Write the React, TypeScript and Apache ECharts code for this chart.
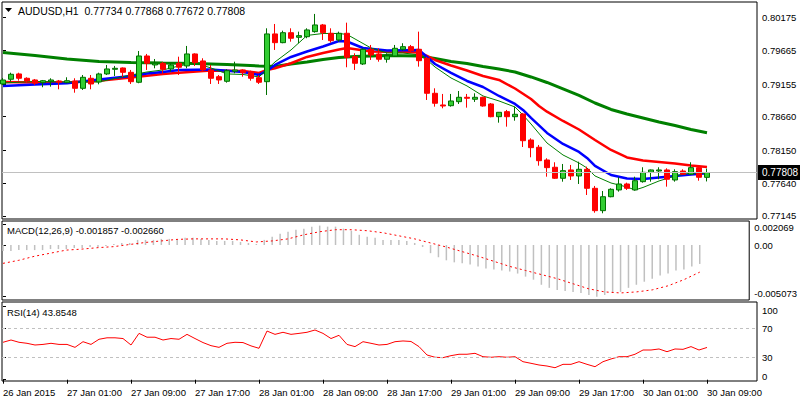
import React, { useEffect, useRef } from 'react';
import * as echarts from 'echarts';

// ---- data (H1 AUDUSD, 26 Jan 2015 17:00 .. 30 Jan 2015 09:00) ----
const timeTickIndex = [0, 8, 16, 24, 32, 40, 48, 56, 64, 72, 80, 88];
const timeLabels = ['26 Jan 2015', '27 Jan 01:00', '27 Jan 09:00', '27 Jan 17:00', '28 Jan 01:00', '28 Jan 09:00', '28 Jan 17:00', '29 Jan 01:00', '29 Jan 09:00', '29 Jan 17:00', '30 Jan 01:00', '30 Jan 09:00'];

const opens = [0.79158, 0.79230, 0.79311, 0.79245, 0.79219, 0.79178, 0.79193, 0.79204, 0.79178, 0.79204, 0.79092, 0.79245, 0.79189, 0.79311, 0.79382, 0.79402, 0.79336, 0.79184, 0.79585, 0.79448, 0.79474, 0.79387, 0.79474, 0.79433, 0.79616, 0.79509, 0.79372, 0.79269, 0.79199, 0.79352, 0.79372, 0.79330, 0.79254, 0.79193, 0.79921, 0.79788, 0.79940, 0.79870, 0.79879, 0.79956, 0.80058, 0.79931, 0.79829, 0.79931, 0.79574, 0.79463, 0.79687, 0.79616, 0.79535, 0.79585, 0.79687, 0.79727, 0.79687, 0.79550, 0.79016, 0.78838, 0.78827, 0.78888, 0.78955, 0.78925, 0.78955, 0.78853, 0.78659, 0.78736, 0.78659, 0.78701, 0.78304, 0.78193, 0.77999, 0.77888, 0.77720, 0.77847, 0.77755, 0.77857, 0.77567, 0.77226, 0.77439, 0.77542, 0.77633, 0.77542, 0.77668, 0.77811, 0.77831, 0.77847, 0.77694, 0.77831, 0.77781, 0.77882, 0.77734];
const highs = [0.79250, 0.79330, 0.79330, 0.79260, 0.79234, 0.79219, 0.79245, 0.79219, 0.79260, 0.79245, 0.79295, 0.79295, 0.79330, 0.79448, 0.79433, 0.79410, 0.79372, 0.79661, 0.79616, 0.79539, 0.79494, 0.79474, 0.79574, 0.79738, 0.79626, 0.79550, 0.79448, 0.79295, 0.79382, 0.79498, 0.79382, 0.79361, 0.79295, 0.80007, 0.80073, 0.79971, 0.80007, 0.79956, 0.80007, 0.80226, 0.80073, 0.80007, 0.79956, 0.80093, 0.79626, 0.79702, 0.79753, 0.79702, 0.79626, 0.79753, 0.79779, 0.79753, 0.79956, 0.79574, 0.79092, 0.79006, 0.79006, 0.79051, 0.79006, 0.79016, 0.78964, 0.78868, 0.78731, 0.78762, 0.78812, 0.78716, 0.78330, 0.78228, 0.78025, 0.77964, 0.77938, 0.77923, 0.77973, 0.77897, 0.77603, 0.77526, 0.77567, 0.77735, 0.77653, 0.77744, 0.77888, 0.77854, 0.77888, 0.77872, 0.77857, 0.77857, 0.77964, 0.77897, 0.77868];
const lows = [0.79143, 0.79193, 0.79208, 0.79178, 0.79143, 0.79108, 0.79117, 0.79077, 0.79169, 0.79025, 0.79067, 0.79077, 0.79153, 0.79295, 0.79280, 0.79260, 0.79158, 0.79169, 0.79372, 0.79397, 0.79321, 0.79346, 0.79295, 0.79397, 0.79433, 0.79346, 0.79158, 0.79158, 0.79178, 0.79321, 0.79269, 0.79208, 0.79158, 0.78990, 0.79677, 0.79779, 0.79803, 0.79779, 0.79855, 0.79940, 0.79829, 0.79788, 0.79803, 0.79413, 0.79372, 0.79448, 0.79524, 0.79498, 0.79483, 0.79574, 0.79666, 0.79635, 0.79422, 0.78914, 0.78812, 0.78787, 0.78812, 0.78853, 0.78797, 0.78884, 0.78812, 0.78650, 0.78568, 0.78507, 0.78598, 0.78197, 0.78040, 0.77912, 0.77744, 0.77709, 0.77668, 0.77694, 0.77633, 0.77465, 0.77195, 0.77186, 0.77430, 0.77516, 0.77542, 0.77531, 0.77653, 0.77668, 0.77705, 0.77592, 0.77668, 0.77770, 0.77770, 0.77683, 0.77672];
const closes = [0.79219, 0.79306, 0.79245, 0.79204, 0.79169, 0.79208, 0.79219, 0.79184, 0.79208, 0.79092, 0.79260, 0.79158, 0.79311, 0.79387, 0.79397, 0.79336, 0.79193, 0.79585, 0.79474, 0.79474, 0.79382, 0.79448, 0.79413, 0.79616, 0.79483, 0.79372, 0.79245, 0.79219, 0.79361, 0.79372, 0.79330, 0.79245, 0.79184, 0.79921, 0.79788, 0.79940, 0.79855, 0.79895, 0.79982, 0.80058, 0.79940, 0.79818, 0.79931, 0.79565, 0.79474, 0.79687, 0.79600, 0.79535, 0.79585, 0.79702, 0.79727, 0.79666, 0.79513, 0.79016, 0.78864, 0.78822, 0.78899, 0.78955, 0.78940, 0.78955, 0.78822, 0.78659, 0.78726, 0.78659, 0.78696, 0.78293, 0.78187, 0.77988, 0.77882, 0.77720, 0.77836, 0.77755, 0.77857, 0.77567, 0.77226, 0.77439, 0.77552, 0.77633, 0.77567, 0.77683, 0.77811, 0.77847, 0.77847, 0.77705, 0.77821, 0.77781, 0.77882, 0.77735, 0.77808];

// moving averages: [bar index, price]
const maSlow = [[0, 0.79638], [4, 0.79593], [8, 0.79539], [12, 0.79501], [16, 0.79486], [20, 0.79478], [24, 0.79471], [28, 0.79455], [32, 0.79433], [34, 0.79425], [36, 0.79463], [38, 0.79494], [40, 0.79532], [42, 0.79562], [44, 0.79577], [48, 0.79593], [52, 0.79585], [54, 0.79547], [56, 0.79501], [58, 0.79471], [60, 0.79425], [62, 0.79387], [64, 0.79341], [66, 0.79265], [68, 0.79181], [70, 0.79082], [72, 0.78983], [74, 0.78868], [76, 0.78769], [78, 0.78701], [80, 0.78640], [82, 0.78579], [84, 0.78525], [86, 0.78464], [88, 0.78415]];
const maMid = [[0, 0.79189], [4, 0.79181], [8, 0.79181], [12, 0.79208], [16, 0.79257], [20, 0.79311], [22, 0.79330], [26, 0.79364], [30, 0.79356], [32, 0.79326], [33, 0.79372], [34, 0.79397], [36, 0.79474], [38, 0.79570], [40, 0.79631], [42, 0.79684], [43, 0.79707], [46, 0.79654], [50, 0.79646], [52, 0.79638], [53, 0.79585], [54, 0.79524], [56, 0.79440], [58, 0.79364], [60, 0.79280], [62, 0.79219], [64, 0.79089], [66, 0.78929], [67, 0.78822], [68, 0.78736], [70, 0.78594], [72, 0.78464], [74, 0.78304], [76, 0.78152], [78, 0.78037], [80, 0.77991], [82, 0.77969], [84, 0.77946], [86, 0.77915], [88, 0.77892]];
const maFast = [[0, 0.79128], [4, 0.79150], [8, 0.79169], [12, 0.79227], [16, 0.79280], [18, 0.79318], [20, 0.79341], [22, 0.79372], [26, 0.79379], [30, 0.79341], [32, 0.79295], [33, 0.79356], [34, 0.79448], [36, 0.79570], [38, 0.79654], [40, 0.79730], [42, 0.79814], [43, 0.79806], [45, 0.79707], [48, 0.79669], [52, 0.79677], [53, 0.79570], [54, 0.79463], [56, 0.79326], [58, 0.79204], [60, 0.79112], [62, 0.78975], [64, 0.78853], [65, 0.78762], [66, 0.78640], [68, 0.78411], [70, 0.78243], [72, 0.78121], [73, 0.78030], [74, 0.77908], [76, 0.77770], [78, 0.77717], [80, 0.77709], [82, 0.77732], [84, 0.77755], [86, 0.77778], [88, 0.77796]];
const maShort = [[0, 0.79173], [4, 0.79196], [8, 0.79189], [12, 0.79189], [16, 0.79295], [18, 0.79341], [20, 0.79372], [22, 0.79433], [24, 0.79478], [26, 0.79402], [28, 0.79311], [30, 0.79303], [32, 0.79265], [34, 0.79494], [36, 0.79677], [38, 0.79898], [40, 0.79928], [42, 0.79928], [43, 0.79913], [46, 0.79707], [48, 0.79631], [50, 0.79631], [52, 0.79600], [53, 0.79524], [54, 0.79417], [56, 0.79250], [58, 0.79128], [60, 0.78975], [62, 0.78899], [64, 0.78807], [65, 0.78685], [66, 0.78548], [68, 0.78258], [70, 0.78075], [72, 0.77953], [73, 0.77877], [74, 0.77755], [76, 0.77648], [78, 0.77587], [79, 0.77542], [80, 0.77580], [82, 0.77679], [84, 0.77755], [86, 0.77801], [88, 0.77796]];

const macdHist = [-0.0006, -0.0006, -0.0005, -0.0005, -0.0005, -0.0005, -0.0004, -0.0004, -0.0004, -0.0003, -0.0003, -0.0002, -0.0002, -0.0001, 0.0001, 0.0002, 0.0002, 0.0005, 0.0005, 0.0005, 0.0006, 0.0006, 0.0006, 0.0007, 0.0007, 0.0006, 0.0005, 0.0004, 0.0004, 0.0004, 0.0003, 0.0002, 0.0001, 0.0005, 0.0008, 0.0011, 0.0013, 0.0015, 0.0016, 0.0018, 0.0019, 0.0018, 0.0018, 0.0016, 0.0014, 0.0010, 0.0008, 0.0007, 0.0005, 0.0005, 0.0005, 0.0004, 0.0002, -0.0002, -0.0008, -0.0012, -0.0015, -0.0017, -0.0018, -0.0019, -0.0021, -0.0023, -0.0024, -0.0025, -0.0026, -0.0028, -0.0031, -0.0034, -0.0039, -0.0042, -0.0044, -0.0045, -0.0046, -0.0047, -0.0049, -0.005073, -0.0049, -0.0047, -0.0046, -0.0042, -0.0039, -0.0036, -0.0033, -0.0030, -0.0028, -0.0025, -0.0024, -0.0021, -0.001857];
const macdSignal = [[0, -0.0018], [2, -0.0015], [4, -0.0011], [6, -0.0008], [8, -0.0005], [10, -0.0004], [12, -0.00026], [14, -0.00016], [16, 0.00005], [18, 0.00025], [20, 0.0004], [22, 0.00055], [24, 0.0006], [26, 0.0006], [28, 0.0006], [30, 0.0005], [32, 0.0003], [34, 0.0004], [36, 0.0006], [38, 0.001], [40, 0.0013], [42, 0.0015], [44, 0.0015], [46, 0.0014], [48, 0.0012], [50, 0.0009], [52, 0.0006], [54, 0.0002], [56, -0.0002], [58, -0.00065], [60, -0.0011], [62, -0.0016], [64, -0.0021], [66, -0.0025], [68, -0.0029], [70, -0.0033], [72, -0.0038], [74, -0.0043], [76, -0.0046], [78, -0.0047], [80, -0.0046], [82, -0.0044], [84, -0.0040], [86, -0.0034], [88, -0.00266]];

const rsi = [50.9, 54, 50.9, 49.5, 47.2, 48, 49.5, 48, 48, 44, 51.7, 48, 55, 57, 57, 56, 47.2, 63, 57.8, 57.8, 54, 56, 55, 61.7, 56, 50.5, 46.3, 44, 49.5, 50.9, 50.5, 46, 42.7, 66.2, 61.7, 64.5, 61.7, 63, 64.5, 67.6, 63, 56, 60.4, 48, 45, 51.7, 49.5, 47.2, 48, 51.7, 52.7, 52, 45, 33.6, 30.5, 30, 32.7, 34.6, 34.6, 35.9, 31.3, 30.5, 31.3, 30.5, 31.3, 24.5, 22.3, 20, 18.6, 16.3, 20.9, 20.9, 24.5, 20.9, 17.7, 24.5, 28.2, 31.3, 31.3, 34.6, 40.4, 40.4, 41.8, 38.1, 41.8, 41.3, 45, 40.4, 43.8548];
const rsiLevels = [30, 70];

const priceTicks = [0.77145, 0.7764, 0.7815, 0.7866, 0.79155, 0.79665, 0.80175];
const macdTicks = [-0.005073, 0, 0.002069];
const rsiTicks = [0, 30, 70, 100];

const FONT = 'Liberation Sans';

export default function App() {
  const ref = useRef<HTMLDivElement>(null);
  useEffect(() => {
    if (!ref.current) return;
    const chart = echarts.init(ref.current, null, { renderer: 'svg' });
    const last = opens.length - 1;
    const candleData = opens.map((o, i) => [i, o, closes[i], lows[i], highs[i]]);
    const labelBase = { fontSize: 9.5, fontFamily: FONT, color: '#000' };
    const rich = {
      t: { ...labelBase, padding: [8, 0, 0, 0] },
      b: { ...labelBase, padding: [0, 0, 7, 0] },
      n: { ...labelBase },
    };
    const xAxisFor = (g: number) => ({
      type: 'value',
      gridIndex: g,
      min: -0.125,
      max: 94.25,
      axisLine: { show: false },
      splitLine: { show: false },
      axisTick: { show: g === 2, customValues: timeTickIndex, length: 4, lineStyle: { color: '#000' } },
      axisLabel: {
        show: g === 2,
        customValues: timeTickIndex,
        align: 'left',
        margin: 6,
        ...labelBase,
        formatter: (v: number) => {
          const k = timeTickIndex.indexOf(Math.round(v));
          return k >= 0 ? timeLabels[k] : '';
        },
      },
    });
    const yAxisFor = (g: number, min: number, max: number, ticks: number[], fmt: (v: number) => string) => ({
      type: 'value',
      gridIndex: g,
      position: 'right',
      min,
      max,
      axisLine: { show: false },
      splitLine: { show: false },
      axisTick: { show: true, customValues: ticks, length: 3, lineStyle: { color: '#000' } },
      axisLabel: { customValues: ticks, formatter: fmt, margin: 5, ...labelBase, rich },
    });
    const edge = (v: number, ticks: number[], text: string) =>
      v === Math.max(...ticks) ? `{t|${text}}` : v === Math.min(...ticks) ? `{b|${text}}` : `{n|${text}}`;
    const gridBase = { left: 2, right: 43, show: true, borderColor: '#000', borderWidth: 1, backgroundColor: '#fff' };
    const option: any = {
      animation: false,
      backgroundColor: '#fff',
      textStyle: { fontFamily: FONT },
      grid: [
        { ...gridBase, top: 2, height: 217 },
        { ...gridBase, top: 221, height: 79 },
        { ...gridBase, top: 302, height: 79 },
      ],
      xAxis: [xAxisFor(0), xAxisFor(1), xAxisFor(2)],
      yAxis: [
        yAxisFor(0, 0.77099, 0.80408, priceTicks, (v) => `{n|${v.toFixed(5)}}`),
        yAxisFor(1, -0.005392, 0.002353, macdTicks, (v) => edge(v, macdTicks, v === 0 ? '0.00' : v.toFixed(6))),
        yAxisFor(2, -1.77, 105.7, rsiTicks, (v) => edge(v, rsiTicks, String(v))),
      ],
      series: [
        {
          type: 'line', xAxisIndex: 0, yAxisIndex: 0, data: maSlow, symbol: 'none', lineStyle: { color: '#008000', width: 3 }, z: 2,
          markLine: {
            silent: true,
            precision: 5,
            symbol: ['none', 'none'],
            lineStyle: { color: '#c0c0c0', type: 'solid', width: 1 },
            label: {
              show: true,
              position: 'end',
              distance: 1,
              formatter: () => closes[last].toFixed(5),
              backgroundColor: '#000',
              color: '#fff',
              fontSize: 10,
              fontFamily: FONT,
              padding: [3, 6, 2, 4],
            },
            data: [{ yAxis: closes[last] }],
          },
        },
        { type: 'line', xAxisIndex: 0, yAxisIndex: 0, data: maMid, symbol: 'none', lineStyle: { color: '#ff0000', width: 2.5 }, z: 2 },
        { type: 'line', xAxisIndex: 0, yAxisIndex: 0, data: maFast, symbol: 'none', lineStyle: { color: '#0000ff', width: 2.5 }, z: 2 },
        { type: 'line', xAxisIndex: 0, yAxisIndex: 0, data: maShort, symbol: 'none', lineStyle: { color: '#008000', width: 1 }, z: 2 },
        {
          type: 'candlestick',
          xAxisIndex: 0,
          yAxisIndex: 0,
          data: candleData,
          barWidth: 5,
          z: 3,
          itemStyle: { color: '#32cd32', borderColor: '#007000', color0: '#ff0000', borderColor0: '#ff0000', borderWidth: 1 },
        },
        {
          type: 'bar',
          xAxisIndex: 1,
          yAxisIndex: 1,
          data: macdHist.map((v, i) => [i, v]),
          barWidth: 1.5,
          itemStyle: { color: '#c0c0c0' },
        },
        {
          type: 'line',
          xAxisIndex: 1,
          yAxisIndex: 1,
          data: macdSignal,
          symbol: 'none',
          lineStyle: { color: '#ff0000', width: 1, type: [2, 3] },
        },
        {
          type: 'line',
          xAxisIndex: 2,
          yAxisIndex: 2,
          data: rsi.map((v, i) => [i, v]),
          symbol: 'none',
          lineStyle: { color: '#ff0000', width: 1 },
          markLine: {
            silent: true,
            symbol: ['none', 'none'],
            label: { show: false },
            lineStyle: { color: '#c0c0c0', type: [3, 3], width: 1 },
            data: rsiLevels.map((l) => ({ yAxis: l })),
          },
        },
      ],
      graphic: [
        { type: 'polygon', shape: { points: [[5, 8], [12, 8], [8.5, 12]] }, style: { fill: '#000' } },
        {
          type: 'text', x: 18, y: 11,
          style: {
            text: `AUDUSD,H1  ${opens[last].toFixed(5)} ${highs[last].toFixed(5)} ${lows[last].toFixed(5)} ${closes[last].toFixed(5)}`,
            fill: '#000', fontSize: 10.5, fontFamily: FONT, verticalAlign: 'middle',
          },
        },
        {
          type: 'text', x: 7, y: 230,
          style: {
            text: `MACD(12,26,9) ${macdHist[last].toFixed(6)} ${macdSignal[macdSignal.length - 1][1].toFixed(6)}`,
            fill: '#000', fontSize: 9.5, fontFamily: FONT, verticalAlign: 'middle',
          },
        },
        {
          type: 'text', x: 7, y: 312,
          style: { text: `RSI(14) ${rsi[last]}`, fill: '#000', fontSize: 9.5, fontFamily: FONT, verticalAlign: 'middle' },
        },
      ],
    };
    chart.setOption(option);
    return () => chart.dispose();
  }, []);
  return <div ref={ref} style={{ position: 'absolute', left: 0, top: 0, width: 800, height: 400 }} />;
}
